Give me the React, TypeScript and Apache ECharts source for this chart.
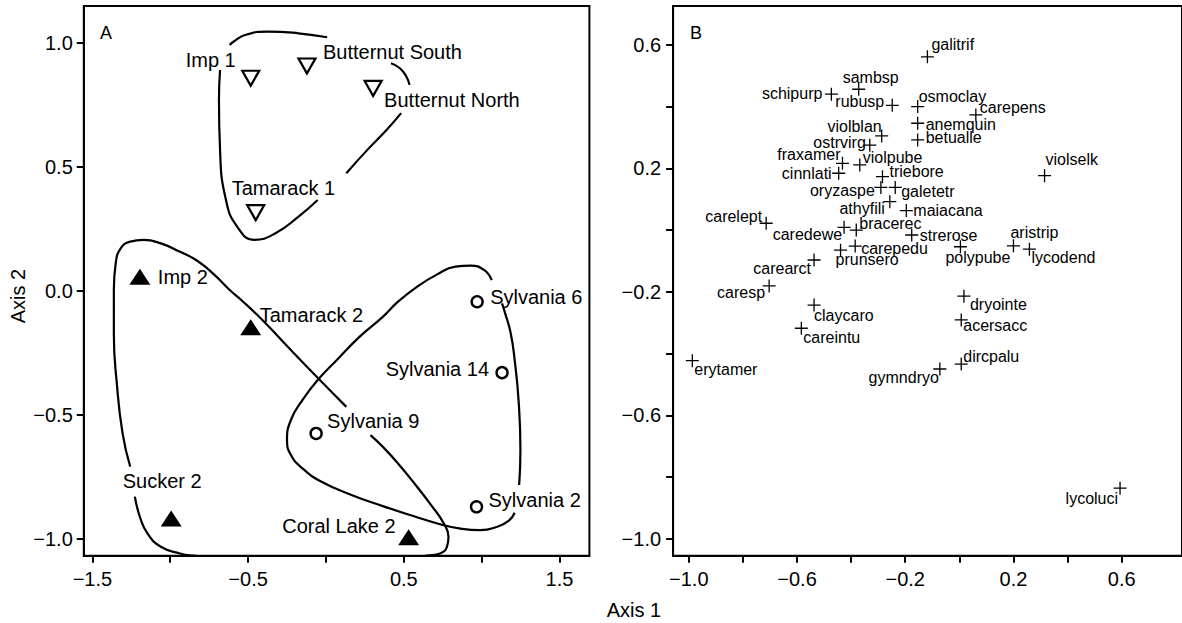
import React, { useEffect, useRef } from 'react';
import * as echarts from 'echarts';

const FONT = '"Liberation Sans", Arial, Helvetica, sans-serif';

// ---------- Panel A: sites ----------
const openTriNames = ['Imp 1', 'Butternut South', 'Butternut North', 'Tamarack 1'];
const openTriX = [-0.483, -0.122, 0.303, -0.451];
const openTriY = [0.858, 0.907, 0.817, 0.316];

const filledTriNames = ['Imp 2', 'Tamarack 2', 'Sucker 2', 'Coral Lake 2'];
const filledTriX = [-1.195, -0.483, -0.994, 0.531];
const filledTriY = [0.058, -0.146, -0.917, -0.993];

const circleNames = ['Sylvania 6', 'Sylvania 14', 'Sylvania 9', 'Sylvania 2'];
const circleX = [0.971, 1.131, -0.063, 0.967];
const circleY = [-0.043, -0.329, -0.574, -0.87];

// hull outlines (segments, gaps where labels sit)
const hullOpen = [
  [[-0.618, 0.992], [-0.594, 1.005], [-0.52, 1.032], [-0.372, 1.046], [-0.176, 1.039], [0.008, 1.023]],
  [[0.418, 0.918], [0.475, 0.898], [0.517, 0.864], [0.537, 0.831]],
  [[0.483, 0.717], [0.389, 0.649], [0.266, 0.569], [0.131, 0.475]],
  [[-0.053, 0.367], [-0.176, 0.3], [-0.324, 0.233], [-0.458, 0.206], [-0.569, 0.259], [-0.642, 0.367], [-0.68, 0.569], [-0.687, 0.77], [-0.68, 0.891]],
];
const hullFilled = [
  [[0.131, -0.467], [-0.028, -0.366], [-0.225, -0.238], [-0.397, -0.124], [-0.544, -0.036], [-0.618, 0.004], [-0.716, 0.065], [-0.827, 0.122], [-0.937, 0.158], [-1.06, 0.192], [-1.171, 0.206], [-1.257, 0.199], [-1.318, 0.172], [-1.35, 0.112], [-1.362, 0.004], [-1.362, -0.171], [-1.343, -0.372], [-1.306, -0.574], [-1.257, -0.708]],
  [[-1.227, -0.829], [-1.195, -0.91], [-1.146, -0.977], [-1.06, -1.031], [-0.937, -1.058], [-0.851, -1.067], [-0.616, -1.081], [0.026, -1.089], [0.54, -1.081], [0.647, -1.067], [0.733, -1.058], [0.777, -1.031], [0.787, -0.991], [0.757, -0.937], [0.684, -0.87], [0.585, -0.789], [0.463, -0.695], [0.365, -0.628], [0.286, -0.581]],
];
const hullCircle = [
  [[1.065, 0.044], [1.015, 0.085], [0.929, 0.102], [0.831, 0.098], [0.709, 0.065], [0.585, 0.017], [0.463, -0.043], [0.365, -0.104], [0.217, -0.184], [0.07, -0.278], [-0.053, -0.359], [-0.151, -0.44], [-0.225, -0.52], [-0.25, -0.601], [-0.225, -0.661], [-0.151, -0.715], [-0.028, -0.769], [0.168, -0.823], [0.365, -0.867], [0.561, -0.907], [0.733, -0.94], [0.856, -0.957], [0.991, -0.964], [1.101, -0.95], [1.175, -0.926], [1.212, -0.894]],
  [[1.241, -0.782], [1.249, -0.641], [1.237, -0.44], [1.212, -0.278], [1.187, -0.171], [1.151, -0.09], [1.131, -0.05]],
];

// ---------- Panel B: species ----------
const speciesNames = ['galitrif', 'sambsp', 'schipurp', 'rubusp', 'osmoclay', 'carepens', 'anemquin', 'violblan', 'betualle', 'ostrvirg', 'fraxamer', 'violpube', 'cinnlati', 'triebore', 'oryzaspe', 'galetetr', 'athyfili', 'maiacana', 'carelept', 'caredewe', 'bracerec', 'carepedu', 'strerose', 'prunsero', 'polypube', 'aristrip', 'lycodend', 'carearct', 'caresp', 'violselk', 'dryointe', 'claycaro', 'acersacc', 'careintu', 'dircpalu', 'gymndryo', 'erytamer', 'lycoluci'];
const speciesX = [-0.118, -0.372, -0.473, -0.248, -0.154, 0.061, -0.154, -0.287, -0.154, -0.331, -0.432, -0.368, -0.446, -0.284, -0.29, -0.237, -0.257, -0.196, -0.714, -0.426, -0.381, -0.385, -0.176, -0.439, 0.004, 0.2, 0.259, -0.537, -0.703, 0.315, 0.017, -0.537, 0.007, -0.584, 0.007, -0.072, -0.987, 0.594];
const speciesY = [0.561, 0.456, 0.44, 0.404, 0.4, 0.373, 0.346, 0.305, 0.292, 0.275, 0.216, 0.211, 0.184, 0.173, 0.138, 0.138, 0.092, 0.063, 0.022, 0.009, 0.0, -0.052, -0.016, -0.065, -0.054, -0.051, -0.062, -0.097, -0.181, 0.176, -0.214, -0.243, -0.291, -0.318, -0.434, -0.45, -0.423, -0.836];

// ---------- tick values ----------
const aXTicks = [-1.5, -1, -0.5, 0, 0.5, 1, 1.5];
const aXLabels = [-1.5, -0.5, 0.5, 1.5];
const aYTicks = [-1, -0.5, 0, 0.5, 1];
const bXTicks = [-1, -0.8, -0.6, -0.4, -0.2, 0, 0.2, 0.4, 0.6];
const bXLabels = [-1, -0.6, -0.2, 0.2, 0.6];
const bYTicks = [-1, -0.8, -0.6, -0.4, -0.2, 0, 0.2, 0.4, 0.6];
const bYLabels = [-1, -0.6, -0.2, 0.2, 0.6];

// ---------- label placement (styling) ----------
type Place = [number, number, 'left' | 'right' | 'center'];
const siteLabelPlace: Record<string, Place> = {
  'Imp 1': [-15, -18, 'right'],
  'Butternut South': [16, -14, 'left'],
  'Butternut North': [11, 12, 'left'],
  'Tamarack 1': [-24, -25, 'left'],
  'Imp 2': [18, 0, 'left'],
  'Tamarack 2': [9, -12, 'left'],
  'Sucker 2': [-9, -37, 'center'],
  'Coral Lake 2': [-13, -11, 'right'],
  'Sylvania 6': [13, -5, 'left'],
  'Sylvania 14': [-13, -4, 'right'],
  'Sylvania 9': [11, -12, 'left'],
  'Sylvania 2': [12, -7, 'left'],
};
const speciesLabelPlace: Place[] = [
  [4, -12, 'left'], [-16, -12, 'left'], [-9, -1, 'right'], [-8, -4, 'right'], [1, -10, 'left'],
  [4, -7, 'left'], [8, 1, 'left'], [0, -9, 'right'], [8, -2, 'left'], [-4, -3, 'right'],
  [-2, -9, 'right'], [3, -7, 'left'], [-7, 0, 'right'], [7, -5, 'left'], [-6, 3, 'right'],
  [6, 4, 'left'], [-5, 7, 'right'], [7, 0, 'left'], [-4, -7, 'right'], [-2, 7, 'right'],
  [3, -7, 'left'], [6, 2, 'left'], [8, 0, 'left'], [-5, 9, 'left'], [-15, 11, 'left'],
  [-3, -13, 'left'], [2, 8, 'left'], [-3, 8, 'right'], [-4, 7, 'right'], [1, -16, 'left'],
  [6, 8, 'left'], [0, 10, 'left'], [2, 6, 'left'], [2, 9, 'left'], [2, -8, 'left'],
  [-1, 9, 'right'], [2, 9, 'left'], [-2, 10, 'right'],
];

const fmt = (v: number) => {
  const s = (Math.abs(v) < 1e-9 ? 0 : v).toFixed(1);
  return s.replace('-', '\u2212');
};

function labelFor(p: Place, size: number) {
  return {
    show: true,
    position: 'inside',
    align: p[2],
    verticalAlign: 'middle',
    offset: [p[0], p[1]],
    color: '#000',
    fontSize: size,
    fontFamily: FONT,
  };
}

function siteData(names: string[], xs: number[], ys: number[]) {
  return names.map((n, i) => ({
    name: n,
    value: [xs[i], ys[i]],
    label: { ...labelFor(siteLabelPlace[n], 20), formatter: n },
  }));
}

export default function App() {
  const ref = useRef<HTMLDivElement>(null);
  useEffect(() => {
    if (!ref.current) return;
    const chart = echarts.init(ref.current, null, { renderer: 'svg' });
    const axisCommon = (ticks: number[], labels: number[], margin: number, fontSize = 20) => ({
      type: 'value',
      axisLine: { show: true, onZero: false, lineStyle: { color: '#000', width: 2 } },
      splitLine: { show: false },
      axisTick: { show: true, customValues: ticks, length: 7, inside: false, lineStyle: { color: '#000', width: 2 } },
      axisLabel: { show: true, customValues: labels, formatter: (v: number) => fmt(v), color: '#000', fontSize, fontFamily: FONT, margin },
    });

    const lineSeries: any[] = [];
    [...hullOpen, ...hullFilled, ...hullCircle].forEach((seg) => {
      lineSeries.push({
        type: 'line',
        xAxisIndex: 0,
        yAxisIndex: 0,
        data: seg,
        smooth: 0.5,
        showSymbol: false,
        symbol: 'none',
        clip: true,
        lineStyle: { color: '#000', width: 2.2 },
        z: 2,
        silent: true,
      });
    });

    const option: any = {
      animation: false,
      grid: [
        { left: 83.8, top: 6, width: 505.6, height: 549.7, show: true, borderColor: '#000', borderWidth: 2, backgroundColor: 'transparent' },
        { left: 673.1, top: 6, width: 516.7, height: 549.7, show: true, borderColor: '#000', borderWidth: 2, backgroundColor: 'transparent' },
      ],
      xAxis: [
        { gridIndex: 0, min: -1.555, max: 1.692, ...axisCommon(aXTicks, aXLabels, 13) },
        { gridIndex: 1, min: -1.058, max: 0.823, ...axisCommon(bXTicks, bXLabels, 13) },
      ],
      yAxis: [
        { gridIndex: 0, min: -1.067, max: 1.149, ...axisCommon(aYTicks, aYTicks, 11) },
        { gridIndex: 1, min: -1.0547, max: 0.7257, ...axisCommon(bYTicks, bYLabels, 12) },
      ],
      series: [
        ...lineSeries,
        {
          type: 'scatter', xAxisIndex: 0, yAxisIndex: 0, z: 5,
          symbol: 'path://M0,0L20,0L10,18Z', symbolSize: [17, 15],
          itemStyle: { color: '#fff', borderColor: '#000', borderWidth: 2.2, opacity: 1 },
          data: siteData(openTriNames, openTriX, openTriY),
        },
        {
          type: 'scatter', xAxisIndex: 0, yAxisIndex: 0, z: 5,
          symbol: 'triangle', symbolSize: [21, 16],
          itemStyle: { color: '#000', opacity: 1 },
          data: siteData(filledTriNames, filledTriX, filledTriY),
        },
        {
          type: 'scatter', xAxisIndex: 0, yAxisIndex: 0, z: 5,
          symbol: 'circle', symbolSize: 11,
          itemStyle: { color: '#fff', borderColor: '#000', borderWidth: 2.4, opacity: 1 },
          data: siteData(circleNames, circleX, circleY),
        },
        {
          type: 'scatter', xAxisIndex: 1, yAxisIndex: 1, z: 5,
          symbol: 'path://M0,6.5L13,6.5M6.5,0L6.5,13', symbolSize: 13,
          itemStyle: { color: 'none', borderColor: '#000', borderWidth: 1.3, opacity: 1 },
          data: speciesNames.map((n, i) => ({
            name: n,
            value: [speciesX[i], speciesY[i]],
            label: { ...labelFor(speciesLabelPlace[i], 16), formatter: n },
          })),
        },
      ],
      graphic: [
        { type: 'text', x: 100, y: 33, style: { text: 'A', font: `18px ${FONT}`, fill: '#000', textAlign: 'left', textVerticalAlign: 'middle' } },
        { type: 'text', x: 690, y: 33, style: { text: 'B', font: `18px ${FONT}`, fill: '#000', textAlign: 'left', textVerticalAlign: 'middle' } },
        { type: 'text', x: 634, y: 610, style: { text: 'Axis 1', font: `20px ${FONT}`, fill: '#000', textAlign: 'center', textVerticalAlign: 'middle' } },
        { type: 'text', x: 18, y: 296, rotation: Math.PI / 2, style: { text: 'Axis 2', font: `20px ${FONT}`, fill: '#000', textAlign: 'center', textVerticalAlign: 'middle' } },
      ],
    };
    chart.setOption(option);
    return () => chart.dispose();
  }, []);
  return <div ref={ref} style={{ position: 'absolute', left: 0, top: 0, width: 1182, height: 623, background: '#fff' }} />;
}
